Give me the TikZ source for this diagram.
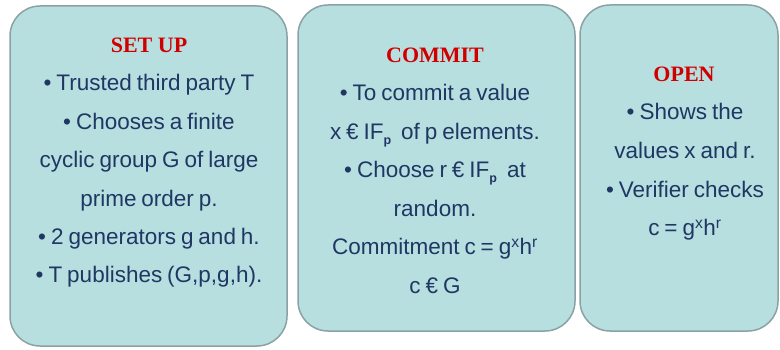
\documentclass[tikz,border=0pt]{standalone}
\usepackage{fontspec}
\setmainfont{Liberation Sans}
\newfontfamily\titlefont{Liberation Serif}
\usetikzlibrary{positioning}
\definecolor{panelfill}{HTML}{B8DFE0}
\definecolor{paneldraw}{HTML}{8AA2A4}
\definecolor{bodyblue}{HTML}{1F3763}
\definecolor{titlered}{HTML}{D00000}
\newcommand{\subp}{\raisebox{-5pt}{\fontsize{12.5}{12.5}\selectfont\bfseries p}}
\newcommand{\bodyfont}{\fontsize{22.5}{24}\selectfont\spaceskip=0.22em plus 0.1em\relax}
\tikzstyle{panel}=[draw=paneldraw, line width=1.5pt, fill=panelfill, rounded corners=30pt, inner sep=0pt]
\tikzstyle{heading}=[font=\titlefont\bfseries\fontsize{22}{24}\selectfont, text=titlered, anchor=base, inner sep=0pt]
\tikzstyle{txtline}=[font=\bodyfont, text=bodyblue, anchor=base, inner sep=0pt]

\begin{document}
\begin{tikzpicture}[x=1pt, y=-1pt]
    \useasboundingbox (0,0) rectangle (780,350);
    % the three panels
    \node[panel, minimum width=277pt, minimum height=340pt] (setup) at (148.5,176) {};
    \node[panel, minimum width=277pt, minimum height=326pt] (commit) at (436.5,168) {};
    \node[panel, minimum width=198pt, minimum height=326pt] (open) at (679,168) {};

    % headings
    \node[heading] (setuphead) at (149,53) {SET UP};
    \node[heading] (commithead) at (435,63) {COMMIT};
    \node[heading] (openhead) at (684,82) {OPEN};

    % body lines
    \foreach \txt [count=\i from 0] in {{• Trusted third party T},{• Chooses a finite},{cyclic group G of large},{prime order p.},{• 2 generators g and h.},{• T publishes (G,p,g,h).}}
        \node[txtline] (setup\i) at (149, 91+38.4*\i) {\txt};

    \foreach \txt [count=\i from 0] in {{• To commit a value},{x € IF\subp\ \ of p elements.},{• Choose r € IF\subp\ \ at},{random.},{Commitment c = g\textsuperscript{x}h\textsuperscript{r}},{c € G}}
        \node[txtline] (commit\i) at (435, 101+38.4*\i) {\txt};

    \foreach \txt [count=\i from 0] in {{• Shows the},{values x and r.},{• Verifier checks},{c = g\textsuperscript{x}h\textsuperscript{r}}}
        \node[txtline] (open\i) at (685, 120+38.6*\i) {\txt};
\end{tikzpicture}
\end{document}
